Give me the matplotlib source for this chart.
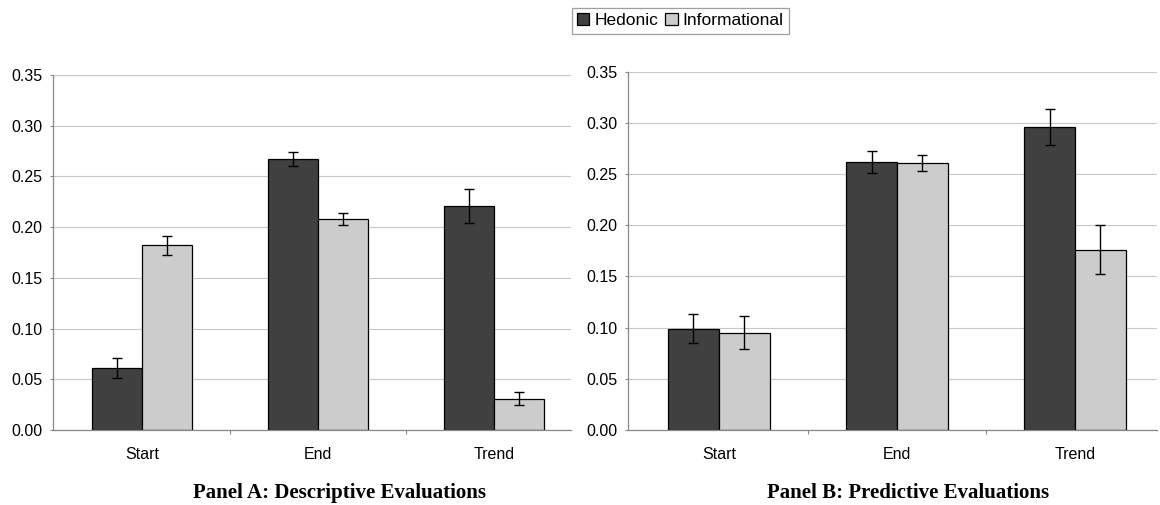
import numpy as np
import matplotlib.pyplot as plt

# values
categories = ['Start', 'End', 'Trend']
series = ['Hedonic', 'Informational']
colors = ['#404040', '#cccccc']

a_hedonic = [0.061, 0.267, 0.221]
a_hedonic_err = [0.010, 0.007, 0.017]
a_info = [0.182, 0.208, 0.031]
a_info_err = [0.009, 0.006, 0.006]

b_hedonic = [0.099, 0.262, 0.296]
b_hedonic_err = [0.014, 0.011, 0.018]
b_info = [0.095, 0.261, 0.176]
b_info_err = [0.016, 0.008, 0.024]

yticks = [0.00, 0.05, 0.10, 0.15, 0.20, 0.25, 0.30, 0.35]
titles = ['Panel A: Descriptive Evaluations', 'Panel B: Predictive Evaluations']

plt.rcParams['font.family'] = ['Liberation Sans', 'DejaVu Sans']

fig = plt.figure(figsize=(11.6, 5.05), dpi=100)
ax_a = fig.add_axes([0.0457, 0.1485, 0.4466, 0.703])
ax_b = fig.add_axes([0.5414, 0.1485, 0.456, 0.7095])

x = np.arange(len(categories))
w = 0.285


def draw_panel(ax, hed, hed_err, inf, inf_err, xlim):
    ax.bar(x - w / 2, hed, w, color=colors[0], edgecolor='black', linewidth=0.9,
           label=series[0], zorder=2)
    ax.bar(x + w / 2, inf, w, color=colors[1], edgecolor='black', linewidth=0.9,
           label=series[1], zorder=2)
    ax.errorbar(x - w / 2, hed, yerr=hed_err, fmt='none', ecolor='black',
                elinewidth=1, capsize=3.6, capthick=1, zorder=3)
    ax.errorbar(x + w / 2, inf, yerr=inf_err, fmt='none', ecolor='black',
                elinewidth=1, capsize=3.6, capthick=1, zorder=3)
    ax.set_xlim(*xlim)
    ax.set_ylim(0, 0.35)
    ax.set_yticks(yticks)
    ax.set_yticklabels(['%.2f' % v for v in yticks], fontsize=11.5)
    ax.yaxis.grid(True, color='#c8c8c8', linewidth=0.8, zorder=0)
    ax.set_axisbelow(True)
    # category labels in the middle, tick marks on the boundaries
    ax.set_xticks([0.5, 1.5])
    ax.set_xticklabels([])
    ax.set_xticks(x, minor=True)
    ax.set_xticklabels(categories, minor=True, fontsize=11.5)
    ax.tick_params(axis='x', which='minor', length=0, pad=12)
    ax.tick_params(axis='x', which='major', length=3, color='#888888')
    ax.tick_params(axis='y', length=2.5, color='#888888', pad=5)
    for s in ['top', 'right']:
        ax.spines[s].set_visible(False)
    for s in ['left', 'bottom']:
        ax.spines[s].set_color('#888888')
        ax.spines[s].set_linewidth(0.9)


draw_panel(ax_a, a_hedonic, a_hedonic_err, a_info, a_info_err, (-0.506, 2.44))
draw_panel(ax_b, b_hedonic, b_hedonic_err, b_info, b_info_err, (-0.51, 2.46))

fig.text(0.293, 0.024, titles[0], ha='center', va='center', fontsize=15,
         fontweight='bold', family='Liberation Serif')
fig.text(0.783, 0.024, titles[1], ha='center', va='center', fontsize=15,
         fontweight='bold', family='Liberation Serif')

handles, labels = ax_a.get_legend_handles_labels()
leg = fig.legend(handles, labels, loc='upper center', bbox_to_anchor=(0.5866, 0.984),
                 ncol=2, fontsize=12.5, frameon=True, fancybox=False,
                 handlelength=0.7, handleheight=0.7, handletextpad=0.3,
                 columnspacing=0.4, borderpad=0.3, borderaxespad=0)
leg.get_frame().set_edgecolor('#888888')
leg.get_frame().set_linewidth(0.9)

fig.savefig('out.png', dpi=100)
